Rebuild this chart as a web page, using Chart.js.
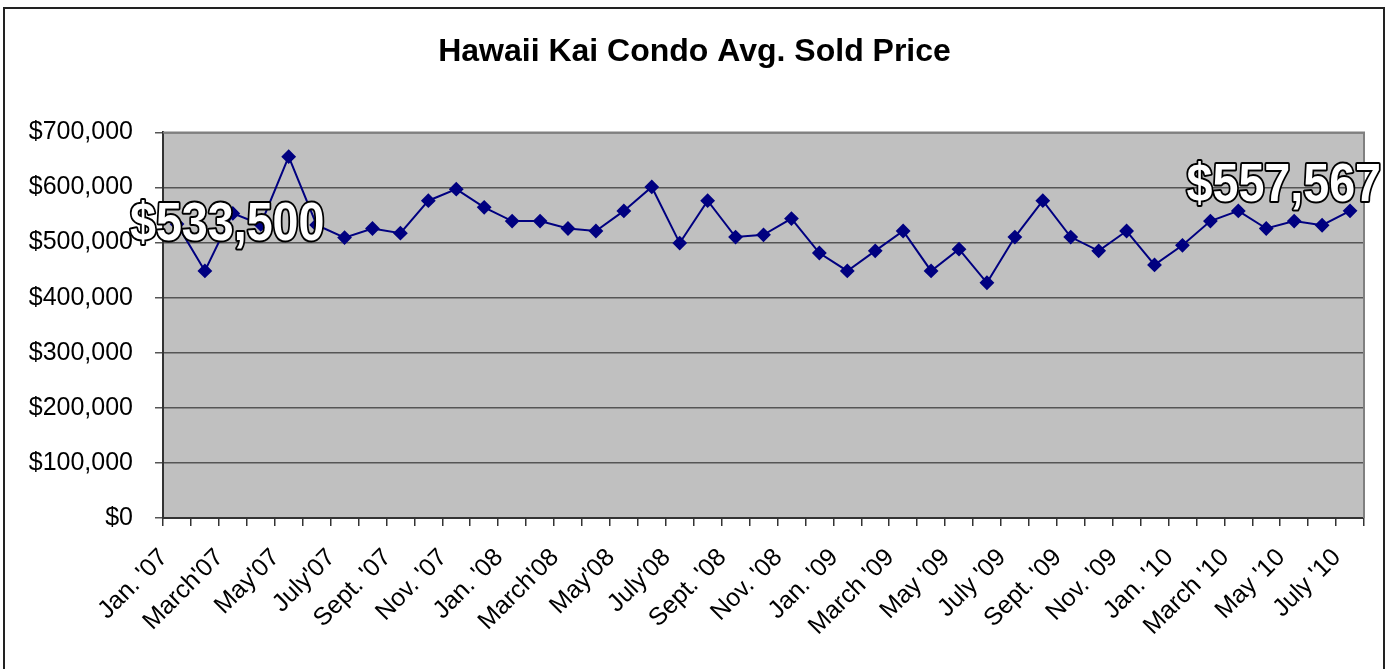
<!DOCTYPE html>
<html>
<head>
<meta charset="utf-8">
<title>Hawaii Kai Condo Avg. Sold Price</title>
<script src="https://cdn.jsdelivr.net/npm/chart.js@4.4.0/dist/chart.umd.min.js"></script>
<style>
  html, body { margin: 0; padding: 0; background: #fff; overflow: hidden; }
  #wrap { position: relative; width: 1389px; height: 669px; }
  #frame { position: absolute; left: 3px; top: 7px; width: 1378px; height: 700px; border: 2px solid #222; pointer-events: none; }
  canvas { position: absolute; left: 0; top: 0; }
</style>
</head>
<body>
<div id="wrap">
  <canvas id="chart" width="1389" height="669"></canvas>
  <div id="frame"></div>
</div>
<script>
const TITLE = "Hawaii Kai Condo Avg. Sold Price";

// one label every other month, Jan '07 .. July '10
const tickLabels = [
  "Jan. '07", "March'07", "May'07", "July'07", "Sept. '07", "Nov. '07",
  "Jan. '08", "March'08", "May'08", "July'08", "Sept. '08", "Nov. '08",
  "Jan. '09", "March '09", "May '09", "July '09", "Sept. '09", "Nov. '09",
  "Jan. '10", "March '10", "May '10", "July '10",
];

const prices2007 = [533500, 448500, 553000, 533000, 656000, 532000, 509000, 525500, 517000, 576000, 597000, 564000];
const prices2008 = [539000, 539000, 525500, 521000, 557500, 601000, 499000, 576000, 510000, 514000, 543500, 481000];
const prices2009 = [448500, 485000, 521000, 448500, 488000, 427000, 510000, 576000, 510000, 485000, 521000, 459500];
const prices2010 = [495000, 539000, 557500, 525500, 539000, 531500, 557567];

const yTicks = [0, 100000, 200000, 300000, 400000, 500000, 600000, 700000];

const prices = prices2007.concat(prices2008, prices2009, prices2010);
const categories = prices.map((p, i) => (i % 2 === 0 ? tickLabels[i / 2] : ""));

const FONT = '"Liberation Sans", Arial, sans-serif';
const money = (v) => "$" + v.toLocaleString("en-US");

const plotBox = {
  id: "plotBox",
  beforeDraw(chart) {
    const { ctx, chartArea: a } = chart;
    ctx.save();
    ctx.fillStyle = "#c0c0c0";
    ctx.fillRect(a.left, a.top, a.right - a.left, a.bottom - a.top);
    ctx.restore();
  },
  beforeDatasetsDraw(chart) {
    const { ctx, chartArea: a } = chart;
    ctx.save();
    ctx.strokeStyle = "#808080";
    ctx.lineWidth = 2;
    ctx.beginPath();
    ctx.moveTo(a.left, a.top);
    ctx.lineTo(a.right, a.top);
    ctx.lineTo(a.right, a.bottom);
    ctx.stroke();
    ctx.restore();
  },
};

function drawBig(ctx, text, x, y, align) {
  ctx.save();
  ctx.translate(x, y);
  ctx.scale(0.88, 1);
  ctx.font = "bold 53px " + FONT;
  ctx.textAlign = align;
  ctx.textBaseline = "alphabetic";
  ctx.lineJoin = "round";
  ctx.lineWidth = 4;
  ctx.strokeStyle = "#000";
  ctx.strokeText(text, 0, 0);
  ctx.fillStyle = "#fff";
  ctx.fillText(text, 0, 0);
  ctx.restore();
}

const endLabels = {
  id: "endLabels",
  afterDatasetsDraw(chart) {
    const pts = chart.getDatasetMeta(0).data;
    const n = pts.length - 1;
    drawBig(chart.ctx, money(prices[0]), pts[0].x - 47, pts[0].y + 16, "left");
    drawBig(chart.ctx, money(prices[n]), pts[n].x + 31, pts[n].y - 10, "right");
  },
};

new Chart(document.getElementById("chart"), {
  type: "line",
  data: {
    labels: categories,
    datasets: [{
      data: prices,
      borderColor: "#000080",
      backgroundColor: "#000080",
      borderWidth: 2,
      pointStyle: "rectRot",
      pointRadius: 6,
      pointBackgroundColor: "#000080",
      pointBorderColor: "#000080",
      tension: 0,
    }],
  },
  options: {
    responsive: false,
    animation: false,
    layout: { padding: { left: 25, right: 25, top: 0, bottom: 0 } },
    plugins: {
      legend: { display: false },
      tooltip: { enabled: false },
      title: {
        display: true,
        text: TITLE,
        color: "#000",
        font: { family: FONT, size: 32, weight: "bold" },
        padding: { top: 33, bottom: 61 },
      },
    },
    scales: {
      x: {
        offset: true,
        afterFit: (s) => { s.height = 151; },
        grid: { offset: true, drawOnChartArea: false, color: "#333", lineWidth: 1.5, tickLength: 8 },
        border: { color: "#333", width: 2 },
        ticks: {
          autoSkip: false,
          minRotation: 45,
          maxRotation: 45,
          padding: 17,
          labelOffset: -13,
          color: "#000",
          font: { family: FONT, size: 25 },
        },
      },
      y: {
        min: 0,
        max: 700000,
        afterFit: (s) => { s.width = 138; },
        afterBuildTicks: (s) => { s.ticks = yTicks.map((v) => ({ value: v })); },
        grid: { color: "#555", lineWidth: 1.5, tickLength: 8 },
        border: { color: "#333", width: 2 },
        ticks: {
          padding: 22,
          color: "#000",
          font: { family: FONT, size: 25 },
          callback: (v) => money(v),
        },
      },
    },
  },
  plugins: [plotBox, endLabels],
});
</script>
</body>
</html>
